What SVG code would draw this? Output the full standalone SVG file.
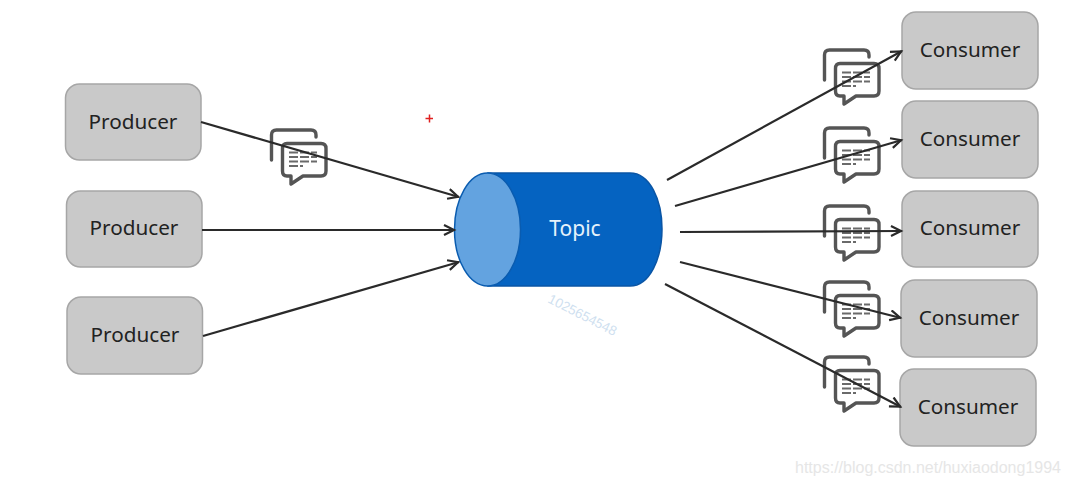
<svg xmlns="http://www.w3.org/2000/svg" width="1069" height="485" viewBox="0 0 1069 485">
<style>
.box{fill:#c9c9c9;stroke:#a6a6a6;stroke-width:1.5}
.lbl{font-family:"Noto Sans","Open Sans",sans-serif;font-size:20.7px;fill:#222;text-anchor:middle}
.c{fill:none;stroke:#2a2a2a;stroke-width:2.2;marker-end:url(#a)}
.ic{fill:none;stroke:#555;stroke-width:3.4;stroke-linecap:round;stroke-linejoin:round}
.bub{fill:#fff;stroke:#555;stroke-width:3.4;stroke-linejoin:round}
.ln{fill:none;stroke:#6a6a6a;stroke-width:1.8;stroke-dasharray:9 2}
</style>
<defs>
<marker id="a" markerUnits="userSpaceOnUse" markerWidth="14" markerHeight="14" refX="12" refY="6" orient="auto"><path d="M1 1L11 6L1 11" fill="none" stroke="#2a2a2a" stroke-width="2.2"/></marker>
<g id="msg">
<path class="ic" d="M1.500 31V6Q1.500 1 6.500 1H41Q46 1 46 6V8"/>
<path class="bub" d="M17 14.500H51Q56 14.500 56 19.500V42Q56 47 51 47H33L21 55V47H17Q12.500 47 12.500 42V19.500Q12.500 14.500 17 14.500Z"/>
<path class="ln" d="M19 23.500H47M19 28H47M19 32.500H47M19 37H33"/>
</g>
</defs>
<rect width="1069" height="485" fill="#fff"/>
<g id="producer1"><rect class="box" x="65.500" y="84" width="135.500" height="76" rx="14"/><text class="lbl" x="133" y="129">Producer</text></g>
<g id="producer2"><rect class="box" x="66.500" y="191" width="135.500" height="76" rx="14"/><text class="lbl" x="134" y="235">Producer</text></g>
<g id="producer3"><rect class="box" x="67" y="297" width="135.500" height="77" rx="14"/><text class="lbl" x="135" y="342">Producer</text></g>
<g id="consumer1"><rect class="box" x="902" y="12" width="136" height="77" rx="14"/><text class="lbl" x="970" y="57">Consumer</text></g>
<g id="consumer2"><rect class="box" x="902" y="101" width="136" height="77" rx="14"/><text class="lbl" x="970" y="146">Consumer</text></g>
<g id="consumer3"><rect class="box" x="902" y="191" width="136" height="76" rx="14"/><text class="lbl" x="970" y="235">Consumer</text></g>
<g id="consumer4"><rect class="box" x="901" y="280" width="136" height="77" rx="14"/><text class="lbl" x="969" y="325">Consumer</text></g>
<g id="consumer5"><rect class="box" x="900" y="369" width="136" height="77" rx="14"/><text class="lbl" x="968" y="414">Consumer</text></g>
<g id="topic">
<path d="M488 173H630C650 173 662 200 662 229C662 258 650 286 630 286H488Z" fill="#0563c1" stroke="#0a55a5" stroke-width="1.500"/>
<ellipse cx="487.500" cy="229.500" rx="33" ry="56.500" fill="#63a3e0" stroke="#0a5cb0" stroke-width="1.500"/>
<text x="575" y="236" font-family="'Noto Sans','Open Sans',sans-serif" font-size="21" fill="#e6f2fb" text-anchor="middle">Topic</text>
</g>
<g id="msg-p"><use href="#msg" x="270" y="129"/></g>
<g id="msg-c1"><use href="#msg" x="823" y="49"/></g>
<g id="msg-c2"><use href="#msg" x="823" y="127"/></g>
<g id="msg-c3"><use href="#msg" x="823" y="205"/></g>
<g id="msg-c4"><use href="#msg" x="823" y="281"/></g>
<g id="msg-c5"><use href="#msg" x="823" y="356"/></g>
<g id="connectors">
<path class="c" d="M201 122L459 197"/>
<path class="c" d="M202 230L455 230"/>
<path class="c" d="M203 336L459 262"/>
<path class="c" d="M667 180L902 51"/>
<path class="c" d="M675 206L902 140"/>
<path class="c" d="M680 232L902 231"/>
<path class="c" d="M680 262L901 318"/>
<path class="c" d="M665 284L901 407"/>
</g>
<path d="M425.500 118.500H433M429.500 114.500V122.500" stroke="#e02020" stroke-width="1.500"/>
<text transform="translate(547 302) rotate(27)" font-family="'Liberation Sans',sans-serif" font-size="13.500" fill="#cfdff0">1025654548</text>
<text x="795" y="473" font-family="'Liberation Sans',sans-serif" font-size="16" fill="#e6e6e6">https://blog.csdn.net/huxiaodong1994</text>
</svg>
